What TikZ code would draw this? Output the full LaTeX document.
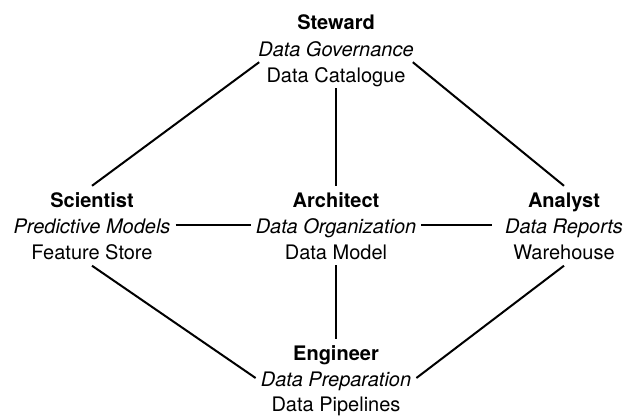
\documentclass[tikz,border=0pt]{standalone}
\usepackage{fontspec}
\setmainfont{TeX Gyre Heros}
\begin{document}
\begin{tikzpicture}[x=1pt,y=-1pt,
  lbl/.style={anchor=base, inner xsep=5pt, inner ysep=2pt, text height=16pt, text depth=4pt, font=\fontsize{20}{24}\selectfont},
  ttl/.style={lbl, text height=19pt, font=\fontsize{20}{24}\selectfont\bfseries},
  sub/.style={lbl, font=\fontsize{20}{24}\selectfont\itshape},
  itm/.style={lbl},
  link/.style={draw=black, line width=2pt}]
\useasboundingbox (0,0) rectangle (627,416);
% Steward
\node[ttl] (stT) at (336,29.5) {Steward};
\node[sub] (stS) at (336,56) {Data Governance};
\node[itm] (stI) at (336,82) {Data Catalogue};
% Scientist
\node[ttl] (sciT) at (92,207) {Scientist};
\node[sub] (sciS) at (92,233) {Predictive Models};
\node[itm] (sciI) at (92,259.5) {Feature Store};
% Architect
\node[ttl] (arcT) at (336,207) {Architect};
\node[sub] (arcS) at (336,233) {Data Organization};
\node[itm] (arcI) at (336,259) {Data Model};
% Analyst
\node[ttl] (anaT) at (564,207) {Analyst};
\node[sub] (anaS) at (564,233) {Data Reports};
\node[itm] (anaI) at (564,259.5) {Warehouse};
% Engineer
\node[ttl] (engT) at (336,360) {Engineer};
\node[sub] (engS) at (336,386) {Data Preparation};
\node[itm] (engI) at (336,411) {Data Pipelines};
% connectors
\draw[link] ([xshift=6pt]stS.south west) -- (sciT.north);
\draw[link] ([xshift=-6pt]stS.south east) -- (anaT.north);
\draw[link] (stI.south) -- (arcT.north);
\draw[link] ([yshift=2pt]sciS.east) -- ([yshift=2pt]arcS.west);
\draw[link, shorten >=8pt] ([yshift=2pt]arcS.east) -- ([yshift=2pt]anaS.west);
\draw[link] (arcI.south) -- (engT.north);
\draw[link] (sciI.south) -- ([yshift=2pt]engS.west);
\draw[link] (anaI.south) -- ([yshift=2pt]engS.east);
\end{tikzpicture}
\end{document}
